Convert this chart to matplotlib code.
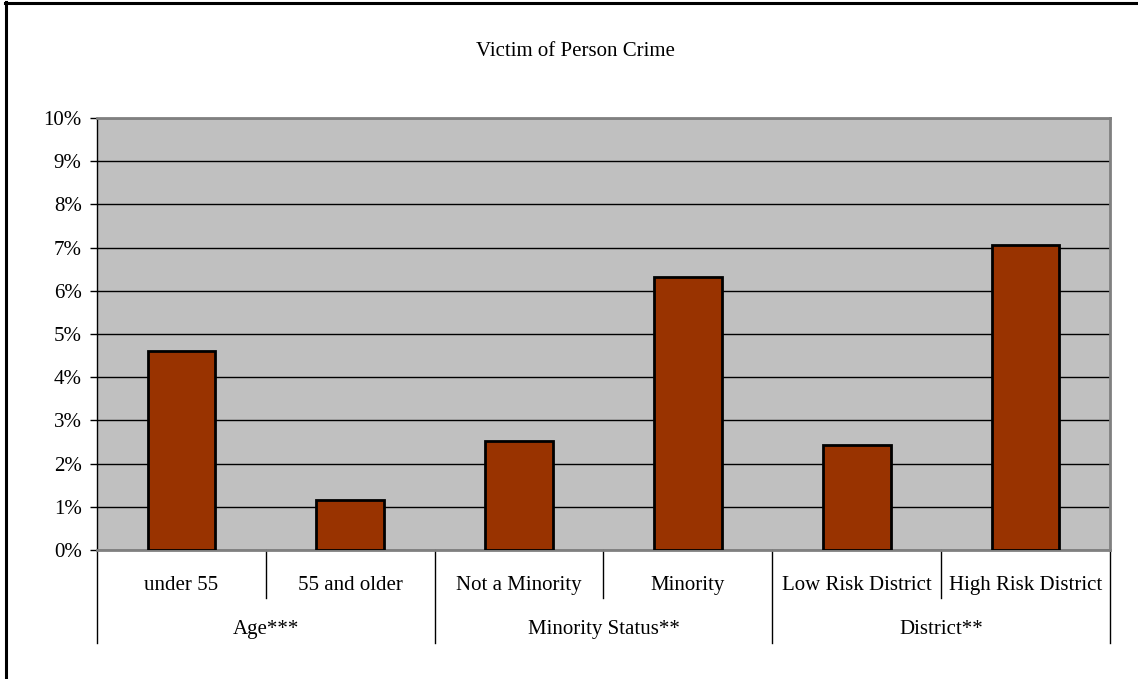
import matplotlib
matplotlib.use('Agg')
from matplotlib import pyplot as plt
from matplotlib.lines import Line2D
from matplotlib.ticker import FuncFormatter
import matplotlib.transforms as mtransforms

categories = ['under 55', '55 and older', 'Not a Minority', 'Minority',
              'Low Risk District', 'High Risk District']
values = [0.046, 0.0116, 0.0252, 0.0631, 0.0243, 0.0707]
groups = ['Age***', 'Minority Status**', 'District**']
group_size = 2

plt.rcParams['font.family'] = ['Liberation Serif', 'DejaVu Serif']
fs = 15

W, H = 1138, 679
fig = plt.figure(figsize=(W / 100, H / 100), dpi=100)
ax = fig.add_axes([97 / W, 1 - 550 / H, (1110 - 97) / W, (550 - 118) / H])

x = list(range(len(categories)))
ax.set_facecolor('#C0C0C0')
ax.bar(x, values, width=0.4, color='#993300', edgecolor='black', linewidth=2, zorder=3)
ax.set_xlim(-0.5, len(categories) - 0.5)
ax.set_ylim(0, 0.1)
ax.set_yticks([i / 100 for i in range(11)])
ax.yaxis.set_major_formatter(FuncFormatter(lambda v, p: '%d%%' % round(v * 100)))
ax.tick_params(axis='y', labelsize=fs, length=5, width=1, pad=6, colors='black')
ax.grid(axis='y', color='black', linewidth=1, zorder=1)
ax.set_axisbelow(True)
ax.set_xticks([])

for s in ['top', 'right']:
    ax.spines[s].set_color('#808080')
    ax.spines[s].set_linewidth(2)
ax.spines['left'].set_color('black')
ax.spines['left'].set_linewidth(1)
ax.spines['bottom'].set_color('#808080')
ax.spines['bottom'].set_linewidth(2)

# category axis labels, two levels
trans = mtransforms.blended_transform_factory(ax.transData, ax.transAxes)
for i, c in enumerate(categories):
    ax.text(i, -0.083, c, transform=trans, ha='center', va='center', fontsize=fs)
for j, g in enumerate(groups):
    ax.text(j * group_size + 0.5, -0.185, g, transform=trans, ha='center', va='center', fontsize=fs)

for k in range(len(categories) + 1):
    xb = k - 0.5
    y_end = -0.215 if k % group_size == 0 else -0.111
    ax.add_line(Line2D([xb, xb], [0, y_end], transform=trans, color='black',
                       linewidth=1, clip_on=False))

fig.text(575 / W, 1 - 51 / H, 'Victim of Person Crime', ha='center', va='center', fontsize=fs)

# outer frame (top and left only)
fig.add_artist(Line2D([5 / W, 1], [1 - 3 / H, 1 - 3 / H], transform=fig.transFigure,
                      color='black', linewidth=2.2))
fig.add_artist(Line2D([6 / W, 6 / W], [0, 1 - 2 / H], transform=fig.transFigure,
                      color='black', linewidth=2.2))

plt.savefig('out.png', dpi=100)
